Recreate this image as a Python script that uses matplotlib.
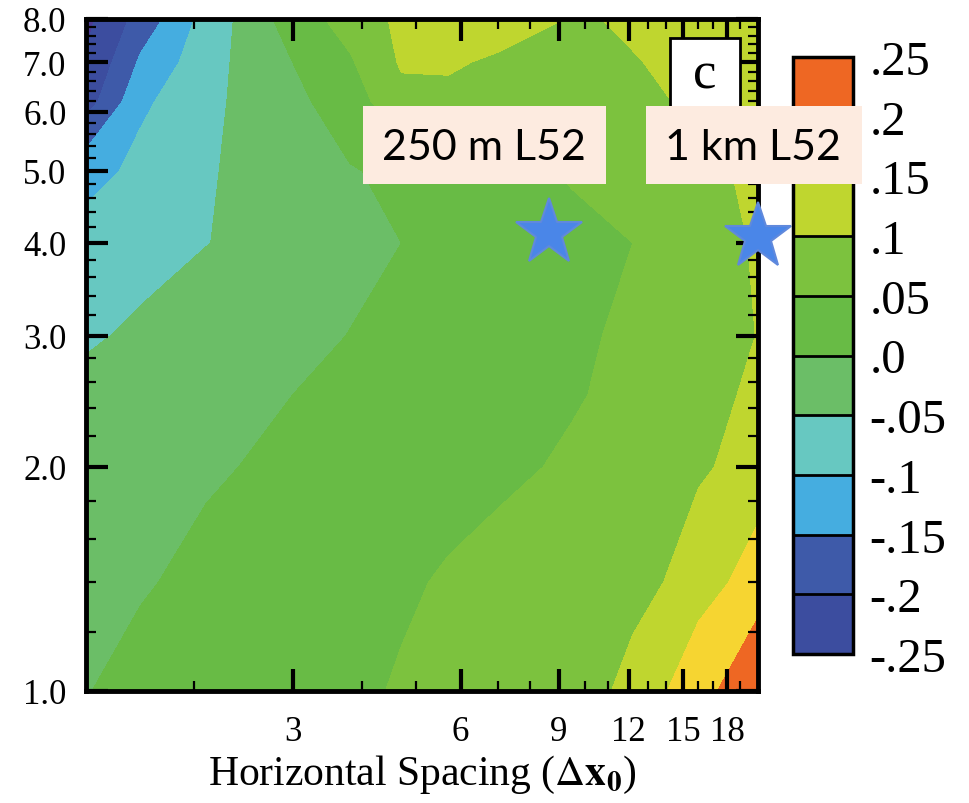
import numpy as np
import matplotlib
matplotlib.use('Agg')
import matplotlib.pyplot as plt
from matplotlib.colors import ListedColormap, BoundaryNorm
from matplotlib.patches import Rectangle

plt.rcParams['font.family'] = ['Liberation Serif', 'DejaVu Serif']
plt.rcParams['mathtext.fontset'] = 'stix'
SERIF = 'Liberation Serif'

# grid (x: horizontal spacing, y: vertical axis)
x_nodes = [1.28, 1.6, 2.1, 3.0, 3.8, 4.7, 5.7, 7.0, 9.5, 12.2, 16.0, 20.45]
y_nodes = [1.0, 1.4, 2.0, 2.5, 3.0, 4.0, 5.0, 6.2, 7.0, 8.0]
z_rows = [
    [-0.001, 0.009, 0.020, 0.034, 0.044, 0.053, 0.057, 0.061, 0.066, 0.121, 0.180, 0.249],
    [-0.013, -0.003, 0.009, 0.025, 0.035, 0.045, 0.054, 0.062, 0.070, 0.077, 0.130, 0.172],
    [-0.030, -0.019, -0.005, 0.010, 0.019, 0.027, 0.034, 0.042, 0.056, 0.075, 0.092, 0.125],
    [-0.040, -0.030, -0.017, 0.000, 0.009, 0.018, 0.026, 0.034, 0.046, 0.063, 0.087, 0.108],
    [-0.055, -0.043, -0.029, -0.011, 0.001, 0.011, 0.020, 0.029, 0.043, 0.058, 0.082, 0.101],
    [-0.080, -0.067, -0.051, -0.029, -0.014, 0.000, 0.010, 0.021, 0.037, 0.050, 0.079, 0.105],
    [-0.120, -0.086, -0.054, -0.023, -0.003, 0.011, 0.023, 0.035, 0.055, 0.072, 0.091, 0.108],
    [-0.223, -0.110, -0.060, -0.012, 0.028, 0.085, 0.085, 0.085, 0.080, 0.090, 0.108, 0.120],
    [-0.247, -0.143, -0.066, 0.000, 0.045, 0.106, 0.108, 0.090, 0.085, 0.098, 0.112, 0.120],
    [-0.261, -0.181, -0.080, 0.028, 0.069, 0.112, 0.125, 0.136, 0.095, 0.106, 0.120, 0.125],
]

levels = [-0.25, -0.2, -0.15, -0.1, -0.05, 0.0, 0.05, 0.1, 0.15, 0.2, 0.25]
level_labels = ['-.25', '-.2', '-.15', '-.1', '-.05', '.0', '.05', '.1', '.15', '.2', '.25']
band_colors = ['#3c4d9f', '#3e5aa9', '#45ade0', '#67c8c1', '#6bbe67',
               '#68bb45', '#7cc23e', '#bfd62f', '#f6d531', '#ee6723']
under_color = '#4d3b96'

x_major = [3, 6, 9, 12, 15, 18]
x_minor = [2, 4, 5, 7, 8, 10, 11, 13, 14, 16, 17, 19]
y_major = [1, 2, 3, 4, 5, 6, 7, 8]

# stars and their labels
star_x = [8.63, 20.45]
star_y = [4.13, 4.08]
star_labels = ['250 m L52', '1 km L52']

fig = plt.figure(figsize=(9.69, 8.04), dpi=100)
W, H = 969.0, 804.0
ax = fig.add_axes([86 / W, 1 - 692 / H, 672 / W, 672 / H])

X, Y = np.meshgrid(x_nodes, y_nodes)
Z = np.array(z_rows)
cf = ax.contourf(X, Y, Z, levels=levels, colors=[under_color] + band_colors, extend='min')

ax.set_xscale('log')
ax.set_yscale('log')
ax.set_xlim(x_nodes[0], x_nodes[-1])
ax.set_ylim(1, 8)

ax.set_xticks(x_major)
ax.set_xticklabels([str(v) for v in x_major], fontfamily=SERIF)
ax.set_xticks(x_minor, minor=True)
ax.set_xticklabels([], minor=True)
ax.set_yticks(y_major)
ax.set_yticklabels(['%.1f' % v for v in y_major], fontfamily=SERIF)
y_minor = [v + d for v in y_major[:-1] for d in (0.2, 0.4, 0.6, 0.8)]
ax.set_yticks(y_minor, minor=True)
ax.set_yticklabels([], minor=True)

ax.tick_params(which='both', direction='in', top=True, right=True, color='black')
ax.tick_params(which='major', length=16, width=3, labelsize=25)
ax.tick_params(which='minor', length=7, width=1.6)
ax.tick_params(axis='y', which='major', pad=14)
ax.tick_params(axis='x', which='major', pad=17)
for sp in ax.spines.values():
    sp.set_linewidth(3.5)

ax.set_xlabel(r'Horizontal Spacing ($\Delta\mathbf{x_0}$)', fontsize=30, labelpad=4,
              fontfamily=SERIF)

ax.plot(star_x, star_y, linestyle='none', marker='*', markersize=50,
        markerfacecolor='#4a86e8', markeredgecolor='#6089dc', markeredgewidth=1.5,
        clip_on=False, zorder=6)

# panel letter
ax.add_patch(Rectangle((0.869, 0.858), 0.104, 0.114, transform=ax.transAxes,
                       facecolor='white', edgecolor='black', linewidth=2, zorder=4))
ax.text(0.921, 0.918, 'c', transform=ax.transAxes, fontsize=38, fontfamily=SERIF,
        ha='center', va='center', zorder=5)

# colorbar
cax = fig.add_axes([793 / W, 1 - 655 / H, 60 / W, 597 / H])
sm = matplotlib.cm.ScalarMappable(norm=BoundaryNorm(levels, len(band_colors)),
                                  cmap=ListedColormap(band_colors))
cb = fig.colorbar(sm, cax=cax, ticks=levels, drawedges=True)
cb.set_ticklabels(level_labels)
cb.outline.set_linewidth(2.5)
cb.dividers.set_color('black')
cb.dividers.set_linewidth(2)
cax.tick_params(length=0, pad=12, labelsize=35)
for lbl in cax.get_yticklabels():
    lbl.set_fontfamily(SERIF)

# label boxes
box_left = [363, 646]
box_width = [243, 216]
text_center = [484, 753]
for i in range(len(star_labels)):
    fig.patches.append(Rectangle((box_left[i] / W, 1 - 185 / H), box_width[i] / W, 78 / H,
                                 transform=fig.transFigure, facecolor='#fdebe0',
                                 edgecolor='none', zorder=3))
    fig.text(text_center[i] / W, 1 - 148 / H, star_labels[i], fontfamily='Lato',
             fontsize=31, ha='center', va='center', zorder=4)

fig.savefig('out.png', dpi=100)
